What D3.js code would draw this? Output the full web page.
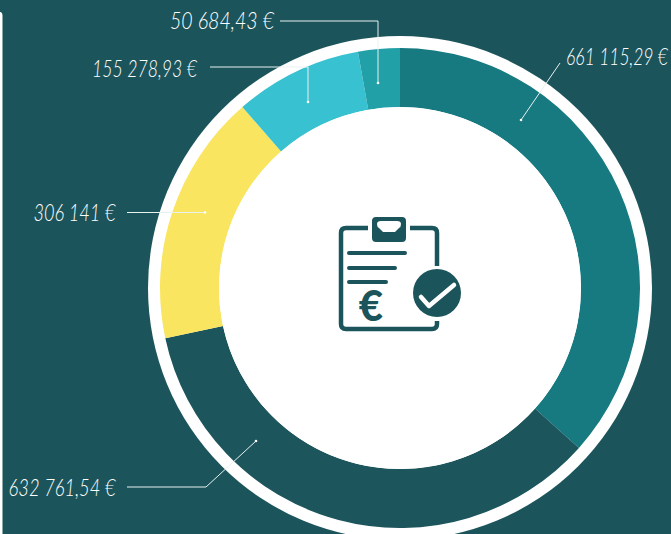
<!DOCTYPE html>
<html>
<head>
<meta charset="utf-8">
<script src="https://cdn.jsdelivr.net/npm/d3@7"></script>
<style>
  html, body { margin: 0; padding: 0; background: #fff; overflow: hidden; }
  svg { display: block; }
  text { font-family: Lato, sans-serif; }
  .value-label { font-style: italic; font-weight: 300; }
  .euro { font-weight: 900; }
</style>
</head>
<body>
<div id="chart"></div>
<script>
const labels = ['661 115,29 €', '632 761,54 €', '306 141 €', '155 278,93 €', '50 684,43 €'];
const values = [661115.29, 632761.54, 306141, 155278.93, 50684.43];
const colors = ['#127a80', '#1b555b', '#f9e55f', '#38c1d0', '#23a0a8'];

const width = 671;
const height = 534;
const cx = 400;
const cy = 288;

// leader layout, picture coordinates: label anchor and width, then the line from label to dot
const leaders = [
  { x: 566, y: 65, w: 102, anchor: 'start', pts: [[560, 63], [521, 120]] },
  { x: 115.5, y: 495.5, w: 107, anchor: 'end', pts: [[127, 487], [206, 487], [256, 441]] },
  { x: 115.5, y: 221, w: 82, anchor: 'end', pts: [[127, 212.5], [205, 212.5]] },
  { x: 197, y: 76.5, w: 105, anchor: 'end', pts: [[210, 67], [308, 67], [308, 102]] },
  { x: 274, y: 29, w: 104, anchor: 'end', pts: [[280, 21], [378, 21], [378, 83]] }
];

const svg = d3.select('#chart').append('svg').attr('width', width).attr('height', height);

const defs = svg.append('defs');
defs.append('filter').attr('id', 'soft')
  .append('feGaussianBlur').attr('stdDeviation', 0.6);

svg.append('rect').attr('width', width).attr('height', height).attr('fill', '#fff');
svg.append('path')
  .attr('d', 'M2.5,0H671V534H2.5V16Q2.5,12 0,12V0Z')
  .attr('fill', '#1b555b');

const plot = svg.append('g')
  .attr('transform', `translate(${cx},${cy})`)
  .attr('filter', 'url(#soft)');

plot.append('circle').attr('r', 252).attr('fill', '#fff');

const pie = d3.pie().sort(null).value(d => d);
const arc = d3.arc().innerRadius(181).outerRadius(240);

plot.selectAll('path.slice')
  .data(pie(values))
  .join('path')
  .attr('class', 'slice')
  .attr('d', arc)
  .attr('fill', (d, i) => colors[i]);

plot.append('circle').attr('r', 181).attr('fill', '#fff');

const line = d3.line();

svg.append('g').selectAll('path')
  .data(leaders)
  .join('path')
  .attr('d', d => line(d.pts))
  .attr('fill', 'none')
  .attr('stroke', '#e8f1f1')
  .attr('stroke-width', 1);

svg.append('g').selectAll('circle')
  .data(leaders)
  .join('circle')
  .attr('cx', d => d.pts[d.pts.length - 1][0])
  .attr('cy', d => d.pts[d.pts.length - 1][1])
  .attr('r', 1.3)
  .attr('fill', '#fff');

svg.append('g').selectAll('text')
  .data(leaders)
  .join('text')
  .attr('class', 'value-label')
  .attr('x', d => d.x)
  .attr('y', d => d.y)
  .attr('text-anchor', d => d.anchor)
  .attr('fill', '#fff')
  .attr('font-size', 23)
  .attr('textLength', d => d.w)
  .attr('lengthAdjust', 'spacingAndGlyphs')
  .text((d, i) => labels[i]);

// clipboard icon
const iconColor = '#1b555b';
const icon = svg.append('g');

icon.append('path')
  .attr('d', 'M368,228H346Q341,228 341,233V324Q341,329 346,329H432Q437,329 437,324V321M437,266V233Q437,228 432,228H410')
  .attr('fill', 'none')
  .attr('stroke', iconColor)
  .attr('stroke-width', 4.5);

icon.append('path')
  .attr('d', 'M376,217H402Q406,217 406,221V238Q406,242 402,242H376Q372,242 372,238V221Q372,217 376,217Z'
    + 'M381,221Q377,221 377,224Q377,227 379,228L383,232H395L399,228Q401,227 401,224Q401,221 397,221Z')
  .attr('fill', iconColor)
  .attr('fill-rule', 'evenodd');

icon.selectAll('line')
  .data([[253, 405], [268, 395], [282, 386]])
  .join('line')
  .attr('x1', 349)
  .attr('x2', d => d[1])
  .attr('y1', d => d[0])
  .attr('y2', d => d[0])
  .attr('stroke', iconColor)
  .attr('stroke-width', 4)
  .attr('stroke-linecap', 'round');

icon.append('text')
  .attr('class', 'euro')
  .attr('x', 371)
  .attr('y', 321)
  .attr('text-anchor', 'middle')
  .attr('font-size', 42)
  .attr('fill', iconColor)
  .text('€');

icon.append('circle').attr('cx', 437).attr('cy', 293).attr('r', 24).attr('fill', iconColor);

icon.append('path')
  .attr('d', 'M421,297L429,306L454,285')
  .attr('fill', 'none')
  .attr('stroke', '#fff')
  .attr('stroke-width', 4.5)
  .attr('stroke-linecap', 'round')
  .attr('stroke-linejoin', 'round');
</script>
</body>
</html>
